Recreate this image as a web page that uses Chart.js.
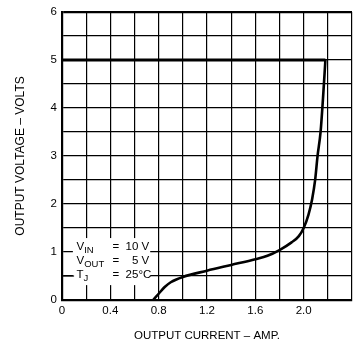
<!DOCTYPE html>
<html>
<head>
<meta charset="utf-8">
<script src="https://cdn.jsdelivr.net/npm/chart.js@4.4.1/dist/chart.umd.min.js"></script>
<style>
  html, body { margin: 0; padding: 0; background: #fff; overflow: hidden; }
  #wrap { width: 356px; height: 344px; }
</style>
</head>
<body>
<div id="wrap"><canvas id="chart" width="356" height="344"></canvas></div>
<script>
// current limit curve (amps, volts)
const currentAmps = [0.754, 0.80, 0.85, 0.90, 1.0, 1.2, 1.4, 1.6, 1.7, 1.8, 1.9, 1.96, 2.0, 2.04, 2.07, 2.095, 2.115, 2.14, 2.16, 2.18];
const outputVolts = [0, 0.13, 0.27, 0.37, 0.48, 0.61, 0.73, 0.85, 0.92, 1.04, 1.2, 1.33, 1.50, 1.78, 2.1, 2.5, 3.0, 3.5, 4.2, 5.0];

// regulated plateau
const flatAmps = [0, 2.18];
const flatVolts = [5, 5];

const xTickLabels = [0, 0.4, 0.8, 1.2, 1.6, 2.0];
const yTickLabels = [0, 1, 2, 3, 4, 5, 6];

const conditions = [
  { sym: "V", sub: "IN", val: "=  10 V" },
  { sym: "V", sub: "OUT", val: "=    5 V" },
  { sym: "T", sub: "J", val: "=  25\u00B0C" }
];

const font = "'Liberation Sans', Arial, sans-serif";

const conditionBox = {
  id: "conditionBox",
  afterDatasetsDraw(chart) {
    const { ctx, scales: { x, y } } = chart;
    ctx.save();
    ctx.fillStyle = "#fff";
    ctx.fillRect(x.getPixelForValue(0.09), y.getPixelForValue(1.29), x.getPixelForValue(0.73) - x.getPixelForValue(0.09), y.getPixelForValue(0.31) - y.getPixelForValue(1.29));
    // short leader into T_J
    ctx.strokeStyle = "#000";
    ctx.lineWidth = 1.2;
    ctx.beginPath();
    ctx.moveTo(x.getPixelForValue(0), y.getPixelForValue(0.5));
    ctx.lineTo(x.getPixelForValue(0.1), y.getPixelForValue(0.5));
    ctx.stroke();
    ctx.fillStyle = "#000";
    ctx.textBaseline = "middle";
    const left = x.getPixelForValue(0.12);
    conditions.forEach((c, i) => {
      const cy = y.getPixelForValue(1.1) + i * 14;
      ctx.font = "11.5px " + font;
      ctx.textAlign = "left";
      ctx.fillText(c.sym, left, cy);
      const w = ctx.measureText(c.sym).width;
      ctx.font = "9.5px " + font;
      ctx.fillText(c.sub, left + w, cy + 3);
      ctx.font = "11.5px " + font;
      ctx.fillText(c.val, left + 36, cy);
    });
    ctx.restore();
  }
};

new Chart(document.getElementById("chart"), {
  type: "scatter",
  data: {
    datasets: [
      {
        data: flatAmps.map((a, i) => ({ x: a, y: flatVolts[i] })),
        showLine: true,
        borderColor: "#000",
        borderWidth: 3,
        pointRadius: 0,
        tension: 0
      },
      {
        data: currentAmps.map((a, i) => ({ x: a, y: outputVolts[i] })),
        showLine: true,
        borderColor: "#000",
        borderWidth: 2.6,
        pointRadius: 0,
        cubicInterpolationMode: "monotone"
      }
    ]
  },
  options: {
    responsive: false,
    animation: false,
    layout: { padding: { top: 10, right: 0, left: 0, bottom: 0 } },
    plugins: { legend: { display: false }, tooltip: { enabled: false } },
    scales: {
      x: {
        type: "linear",
        min: 0,
        max: 2.4,
        afterFit: s => { s.height = 44; },
        afterBuildTicks: s => { s.ticks = []; for (let i = 0; i <= 12; i++) s.ticks.push({ value: i / 5 }); },
        grid: { color: "#000", lineWidth: 1.2, drawTicks: false },
        border: { color: "#000", width: 2.2 },
        ticks: {
          padding: 4,
          color: "#000",
          font: { family: font, size: 11.5 },
          maxRotation: 0,
          autoSkip: false,
          callback: v => {
            const hit = xTickLabels.find(t => Math.abs(t - v) < 1e-6);
            if (hit === undefined) return "";
            return hit === 0 ? "0" : hit.toFixed(1);
          }
        },
        title: {
          display: true,
          text: "OUTPUT CURRENT \u2013 AMP.",
          color: "#000",
          font: { family: font, size: 11.5 },
          padding: { top: 0, bottom: 1 }
        }
      },
      y: {
        min: 0,
        max: 6,
        afterFit: s => { s.width = 62; },
        afterBuildTicks: s => { s.ticks = []; for (let i = 0; i <= 12; i++) s.ticks.push({ value: i / 2 }); },
        grid: { color: "#000", lineWidth: c => (c.tick && c.tick.value === 6 ? 2.2 : 1.2), drawTicks: false },
        border: { color: "#000", width: 2.2 },
        ticks: {
          padding: 5,
          color: "#000",
          font: { family: font, size: 11.5 },
          autoSkip: false,
          callback: v => (yTickLabels.includes(v) ? String(v) : "")
        },
        title: {
          display: true,
          text: "OUTPUT VOLTAGE \u2013 VOLTS",
          color: "#000",
          font: { family: font, size: 12 },
          padding: { top: 13, bottom: 0 }
        }
      }
    }
  },
  plugins: [conditionBox]
});
</script>
</body>
</html>
